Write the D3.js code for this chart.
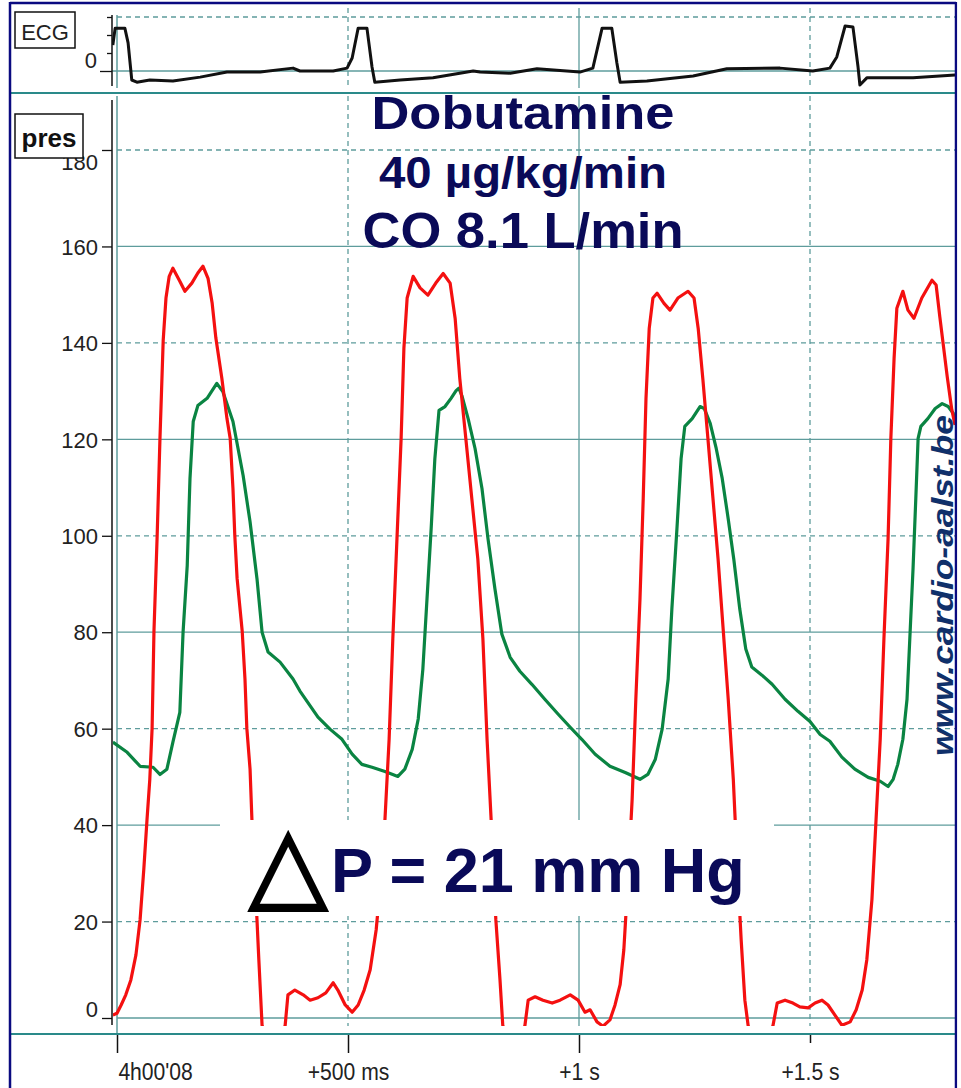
<!DOCTYPE html>
<html>
<head>
<meta charset="utf-8">
<script src="https://cdnjs.cloudflare.com/ajax/libs/d3/7.8.5/d3.min.js"></script>
<style>
  body { margin: 0; background: #fff; }
  svg { display: block; }
  text { font-family: "Liberation Sans", Arial, sans-serif; }
</style>
</head>
<body>
<div id="data-viz"></div>
<script>
// LV pressure (red), ms / mmHg
var lvTime = [-9,0,9,19,30,41,50,58,65,71,76,80,87,93,100,106,113,121,136,147,162,175,186,197,206,214,227,238,245,251,255,260,271,277,281,288,292,301,307,314,330,350,
  364,370,385,403,418,435,452,468,478,494,509,522,535,548,561,571,580,589,597,606,615,621,628,641,656,673,690,706,721,732,742,755,768,781,792,801,812,820,829,835,850,870,
  883,890,905,922,942,959,981,998,1013,1024,1039,1052,1067,1078,1089,1097,1106,1115,1123,1132,1139,1145,1152,1160,1169,1184,1197,1214,1236,1249,1258,1268,1279,1290,1301,1312,1323,1334,1342,1351,1359,1366,1380,1405,
  1420,1429,1446,1463,1478,1496,1511,1526,1539,1554,1569,1587,1600,1613,1623,1634,1643,1652,1660,1669,1675,1682,1688,1701,1712,1725,1742,1764,1773,1781,1797,1807,1814];
var lvPres = [0.6,1,2.7,4.8,7.9,13.1,20.4,30.8,41.2,49.5,60.1,80.2,100.2,120.2,140.5,149.3,153.8,155.5,152.8,150.7,152.4,154.5,155.9,153.4,148.2,141,132.6,124.3,120.2,109.8,100,91.1,80.2,70.3,60.1,51.6,41.2,24.5,12.1,-1.5,-6,-6,
  -1.5,4.8,5.8,4.8,3.7,4.2,5.2,7.3,5.8,2.7,1.2,2.7,5.8,10,18.3,28.7,41.2,57.8,78.6,99.4,120.2,138.9,149.3,153.8,151.4,149.9,152.4,154.4,152.4,145,132.6,120.2,107.7,95.2,78.6,57.8,37,20.4,7.9,-1.5,-6,-6,
  -1.5,3.7,4.4,3.7,3.1,3.7,4.8,3.7,1.2,1.7,-0.8,-1.7,-0.4,2.7,6.9,14.1,28.7,45.3,66.1,86.9,107.7,128.5,143,149.3,150.3,148.2,146.8,149.3,150.7,149.3,143,132.6,120.2,107.7,95.2,80.7,66.1,49.5,32.8,16.2,3.7,-1.5,-6,-6,
  -1.5,3.1,3.7,3.1,2.3,2.1,3.1,3.7,2.7,0.6,-1.5,-0.8,1.7,5.8,12.1,24.5,41.2,57.8,78.6,99.4,120.2,136.8,147.2,150.7,146.8,145.1,149.3,153,152,145.4,133,126.1,123];

// aortic pressure (green)
var aoTime = [-9,22,50,78,93,108,121,136,143,152,158,165,175,195,216,229,251,273,288,303,314,327,353,381,396,435,461,487,509,530,552,580,608,
  623,639,652,662,671,680,688,697,710,723,734,740,747,760,775,790,803,818,833,851,872,898,926,955,981,1006,1035,1067,1100,1132,
  1149,1165,1180,1193,1201,1212,1221,1229,1245,1262,1271,1284,1297,1310,1323,1335,1348,1361,1374,1396,1418,1446,1474,1500,1522,1543,1569,1597,1626,1652,1669,
  1680,1690,1701,1710,1716,1723,1729,1734,1740,1755,1771,1786,1799,1810,1814];
var aoPres = [57.2,55.1,52.2,52,50.5,51.6,57.2,63.4,80,93.8,111.9,123.7,127,128.5,131.6,129.9,123.7,112.5,102.9,91.1,80,75.9,73.8,70.3,67.8,62.4,59.9,57.8,54.7,52.6,52,51.1,50.1,
  51.6,55.7,62,72.3,86.9,101.5,116,126,126.8,128.5,130.1,130.6,128.9,124.3,118.1,109.8,99.4,89,79.6,74.8,71.9,69.2,66.1,63,60.3,57.8,54.7,52.2,50.9,49.5,
  50.5,53.6,59.9,70.3,84.8,101.5,116,122.7,124.3,126.8,126.4,123.3,118.1,111.9,103.5,95.2,84.8,76.5,72.8,71.1,69.2,66.1,63.6,61.5,58.8,57.4,54.1,51.6,49.9,49.1,48,
  49.5,52.6,57.8,66.1,78.6,93.1,107.7,120.2,122.7,124.3,126.4,127.4,126.8,125.4,123.5];

// ECG (black), arbitrary mV
var ecgTime = [-9,-4,17,24,32,43,71,121,180,238,310,381,396,468,498,509,522,541,552,558,613,684,771,786,851,909,1002,1030,1050,1071,
  1082,1089,1147,1247,1320,1435,1506,1543,1558,1576,1593,1604,1608,1623,1723,1814];
var ecgMv = [0.72,1.19,1.19,0.78,-0.25,-0.31,-0.25,-0.28,-0.17,-0.03,-0.03,0.08,0,0,0.08,0.36,1.19,1.19,0.11,-0.31,-0.25,-0.19,0,-0.03,-0.06,0.06,-0.03,0.08,1.19,1.19,
  0.22,-0.31,-0.28,-0.14,0.06,0.08,0,0.08,0.39,1.25,1.22,0.11,-0.39,-0.19,-0.19,-0.11];

var presTicks = [0,20,40,60,80,100,120,140,160,180];
var ecgTicks = [0,0.5,1,1.5];
var timeTicks = [0,500,1000,1500];
var timeLabels = ["4h00'08", "+500 ms", "+1 s", "+1.5 s"];
var titleLines = ["Dobutamine", "40 µg/kg/min", "CO 8.1 L/min"];
var deltaText = "P = 21 mm Hg";
var siteText = "www.cardio-aalst.be";

var W = 961, H = 1088;
var right = 956;
var grid = "#5e9c9c", sep = "#2a8a8a", navy = "#0a0a58";

var svg = d3.select("#data-viz")
  .append("svg")
    .attr("width", W)
    .attr("height", H);

// scales
var x = d3.scaleLinear().domain([0, 1500]).range([117, 810]);
var y = d3.scaleLinear().domain([0, 180]).range([1018, 150]);
var ye = d3.scaleLinear().domain([0, 1.5]).range([71, 17]);

// clip areas for the two panels
var defs = svg.append("defs");
defs.append("clipPath").attr("id", "clipPres")
  .append("rect").attr("x", 113).attr("y", 96).attr("width", right - 113).attr("height", 1026 - 96);
defs.append("clipPath").attr("id", "clipEcg")
  .append("rect").attr("x", 112).attr("y", 4).attr("width", right - 112).attr("height", 88);

// ---- grid ----
var g = svg.append("g");

// pressure horizontals: solid every 40, dashed otherwise
g.selectAll("line.hgrid")
  .data(presTicks)
  .enter()
  .append("line")
    .attr("x1", x(0)).attr("x2", right)
    .attr("y1", function(d){ return y(d); })
    .attr("y2", function(d){ return y(d); })
    .attr("stroke", grid)
    .attr("stroke-width", 1.3)
    .attr("stroke-dasharray", function(d){ return d % 40 === 0 ? null : "5,4"; });

// ecg horizontals
g.append("line").attr("x1", x(0)).attr("x2", right).attr("y1", ye(1.5)).attr("y2", ye(1.5))
  .attr("stroke", grid).attr("stroke-width", 1.3).attr("stroke-dasharray", "5,4");
g.append("line").attr("x1", 112).attr("x2", right).attr("y1", ye(0)).attr("y2", ye(0))
  .attr("stroke", grid).attr("stroke-width", 1.3);

// verticals in both panels
[[96, 1026], [8, 88]].forEach(function(span) {
  g.selectAll(null)
    .data(timeTicks.slice(1))
    .enter()
    .append("line")
      .attr("x1", function(d){ return x(d); })
      .attr("x2", function(d){ return x(d); })
      .attr("y1", span[0]).attr("y2", span[1])
      .attr("stroke", grid)
      .attr("stroke-width", 1.3)
      .attr("stroke-dasharray", function(d){ return d % 1000 === 0 ? null : "5,4"; });
});
g.append("line").attr("x1", x(0)).attr("x2", x(0)).attr("y1", 96).attr("y2", 1034).attr("stroke", grid).attr("stroke-width", 1.5);
g.append("line").attr("x1", x(0)).attr("x2", x(0)).attr("y1", 15).attr("y2", 88).attr("stroke", grid).attr("stroke-width", 1.5);

// panel separators
[93, 1034].forEach(function(yy) {
  svg.append("line").attr("x1", 10).attr("x2", right).attr("y1", yy).attr("y2", yy)
    .attr("stroke", sep).attr("stroke-width", 2);
});

// ---- axes ----
var yAxis = svg.append("g")
  .attr("transform", "translate(112,0)")
  .call(d3.axisLeft(y).tickValues(presTicks).tickSize(10).tickPadding(4));
yAxis.select(".domain").remove();
yAxis.selectAll(".tick line").attr("stroke", "#111").attr("stroke-width", 1.3);
yAxis.selectAll(".tick text")
  .attr("fill", "#222")
  .style("font-size", "22px")
  .attr("dy", function(d){ return d === 180 ? "0.88em" : d === 0 ? "-0.07em" : "0.35em"; });
svg.append("line").attr("x1", 112).attr("x2", 112).attr("y1", 100).attr("y2", 1025)
  .attr("stroke", "#111").attr("stroke-width", 1.5);

var eAxis = svg.append("g")
  .attr("transform", "translate(112,0)")
  .call(d3.axisLeft(ye).tickValues(ecgTicks).tickSize(5).tickPadding(15)
    .tickFormat(function(d){ return d === 0 ? "0" : ""; }));
eAxis.select(".domain").remove();
eAxis.selectAll(".tick line")
  .attr("stroke", "#111").attr("stroke-width", 1.3)
  .attr("x2", function(d){ return d === 0 ? -12 : -5; });
eAxis.selectAll(".tick text")
  .attr("fill", "#222")
  .style("font-size", "22px")
  .attr("x", -15)
  .attr("dy", "-0.17em");
svg.append("line").attr("x1", 112).attr("x2", 112).attr("y1", 15).attr("y2", 86)
  .attr("stroke", "#111").attr("stroke-width", 1.5);

var xAxis = svg.append("g")
  .attr("transform", "translate(0,1035)")
  .call(d3.axisBottom(x).tickValues(timeTicks).tickSize(18).tickPadding(0)
    .tickFormat(function(d, i){ return timeLabels[i]; }));
xAxis.select(".domain").remove();
xAxis.selectAll(".tick line")
  .attr("stroke", "#111").attr("stroke-width", 1.5)
  .attr("y2", function(d){ return d === 1500 ? 8 : 18; });
xAxis.selectAll(".tick text")
  .attr("fill", "#222")
  .style("font-size", "24px")
  .attr("y", 45)
  .attr("dy", 0)
  .attr("transform", "scale(0.88,1)")
  .attr("text-anchor", function(d){ return d === 0 ? "start" : "middle"; })
  .attr("x", function(d){ return d === 0 ? 1 : 0; });

// ---- traces ----
var line = d3.line()
  .x(function(d) { return x(d[0]); })
  .y(function(d) { return y(d[1]); });
var ecgLine = d3.line()
  .x(function(d) { return x(d[0]); })
  .y(function(d) { return ye(d[1]); });

svg.append("path")
  .datum(d3.zip(ecgTime, ecgMv))
  .attr("clip-path", "url(#clipEcg)")
  .attr("fill", "none").attr("stroke", "#111").attr("stroke-width", 3)
  .attr("stroke-linejoin", "round")
  .attr("d", ecgLine);

var traces = svg.append("g").attr("clip-path", "url(#clipPres)");
traces.append("path")
  .datum(d3.zip(aoTime, aoPres))
  .attr("fill", "none").attr("stroke", "#0a8442").attr("stroke-width", 3.2)
  .attr("stroke-linejoin", "round")
  .attr("d", line);
traces.append("path")
  .datum(d3.zip(lvTime, lvPres))
  .attr("fill", "none").attr("stroke", "#f41010").attr("stroke-width", 3.2)
  .attr("stroke-linejoin", "round")
  .attr("d", line);

// ---- channel labels ----
svg.append("rect").attr("x", 15).attr("y", 12).attr("width", 60).attr("height", 36)
  .attr("fill", "#fff").attr("stroke", "#111").attr("stroke-width", 1.5);
svg.append("text").attr("x", 45).attr("y", 40).attr("text-anchor", "middle")
  .style("font-size", "22px").attr("fill", "#222").text("ECG");

svg.append("rect").attr("x", 15).attr("y", 114).attr("width", 68).attr("height", 44)
  .attr("fill", "#fff").attr("stroke", "#111").attr("stroke-width", 1.5);
svg.append("text").attr("x", 49).attr("y", 147).attr("text-anchor", "middle")
  .style("font-size", "26px").style("font-weight", "bold").attr("fill", "#111").text("pres");

// ---- titles ----
var titleY = [129, 188, 248], titleSize = [47, 45, 50], titleLen = [303, 288, 321];
svg.selectAll("text.title")
  .data(titleLines)
  .enter()
  .append("text")
    .attr("class", "title")
    .attr("x", 523)
    .attr("y", function(d, i){ return titleY[i]; })
    .attr("text-anchor", "middle")
    .attr("textLength", function(d, i){ return titleLen[i]; })
    .attr("lengthAdjust", "spacingAndGlyphs")
    .style("font-size", function(d, i){ return titleSize[i] + "px"; })
    .style("font-weight", "bold")
    .attr("fill", navy)
    .text(function(d){ return d; });

// delta P box
svg.append("rect").attr("x", 220).attr("y", 820).attr("width", 554).attr("height", 96).attr("fill", "#fff");
var dp = svg.append("text").attr("y", 892).style("font-weight", "bold");
dp.append("tspan")
  .attr("x", 249).attr("y", 898)
  .style("font-family", "'DejaVu Sans'")
  .style("font-size", "102px").style("font-weight", "normal")
  .attr("fill", "#000").attr("stroke", "#000").attr("stroke-width", 2.5)
  .text("△");
dp.append("tspan")
  .attr("x", 331).attr("y", 892)
  .style("font-size", "63px")
  .attr("fill", navy)
  .text(deltaText);

// site watermark along the right edge
svg.append("text")
  .attr("transform", "translate(953,756) rotate(-90)")
  .attr("textLength", 341)
  .attr("lengthAdjust", "spacingAndGlyphs")
  .style("font-size", "30px")
  .style("font-weight", "bold")
  .style("font-style", "italic")
  .attr("fill", "#10306a")
  .text(siteText);

// outer frame
var frame = svg.append("g").attr("stroke", "#0a0a80").attr("stroke-width", 2.5).attr("fill", "none");
frame.append("line").attr("x1", 10).attr("x2", 10).attr("y1", 2).attr("y2", H);
frame.append("line").attr("x1", 10).attr("x2", right).attr("y1", 3).attr("y2", 3);
frame.append("line").attr("x1", right).attr("x2", right).attr("y1", 2).attr("y2", H);
svg.append("rect").attr("x", right + 1.3).attr("y", 0).attr("width", W - right).attr("height", H).attr("fill", "#fff");
</script>
</body>
</html>
